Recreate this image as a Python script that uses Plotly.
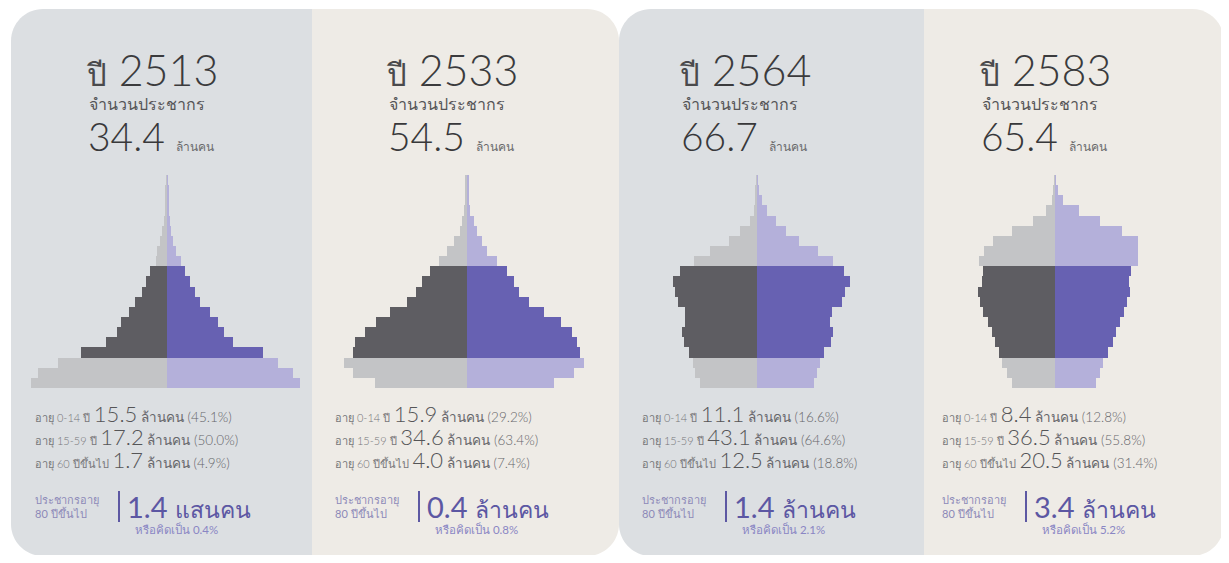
import plotly.graph_objects as go

# page body has an 8px default margin; the figure is sized to fit inside it
OFF = 8
W, H = 1229 - 2 * OFF, 563 - 2 * OFF

# ---------------- data ----------------
years = ["2513", "2533", "2564", "2583"]
total_pop = ["34.4", "54.5", "66.7", "65.4"]

age_groups = ["0-4", "5-9", "10-14", "15-19", "20-24", "25-29", "30-34", "35-39",
              "40-44", "45-49", "50-54", "55-59", "60-64", "65-69", "70-74",
              "75-79", "80-84", "85-89", "90-94", "95-99", "100+"]

# share of total population (%) by 5-year age group
male_2513 = [7.56, 7.17, 6.06, 4.78, 3.39, 2.78, 2.56, 2.11, 1.78, 1.39, 1.17, 0.94,
             0.61, 0.56, 0.39, 0.28, 0.17, 0.11, 0.08, 0.06, 0.03]
female_2513 = [7.39, 7.00, 6.17, 5.33, 3.67, 3.17, 2.83, 2.39, 1.83, 1.56, 1.28, 1.00,
               0.78, 0.50, 0.33, 0.22, 0.17, 0.11, 0.08, 0.06, 0.03]
male_2533 = [5.11, 6.33, 6.83, 6.33, 6.22, 5.67, 5.06, 4.28, 3.33, 2.83, 2.50, 2.06,
             1.56, 1.11, 0.72, 0.39, 0.28, 0.17, 0.11, 0.06, 0.06]
female_2533 = [4.83, 5.94, 6.50, 6.28, 6.11, 5.83, 5.22, 4.28, 3.44, 2.89, 2.61, 2.22,
               1.67, 1.11, 0.83, 0.56, 0.39, 0.17, 0.11, 0.06, 0.06]
male_2564 = [3.17, 3.44, 3.56, 3.78, 4.06, 4.17, 4.00, 4.00, 4.39, 4.56, 4.67, 4.28,
             3.50, 2.61, 1.56, 0.94, 0.39, 0.17, 0.11, 0.06, 0.03]
female_2564 = [3.17, 3.33, 3.50, 3.72, 4.11, 4.22, 4.06, 4.17, 4.72, 4.89, 5.17, 4.83,
               4.22, 3.39, 2.33, 1.61, 1.06, 0.56, 0.28, 0.11, 0.03]
male_2583 = [2.39, 2.67, 2.94, 3.11, 3.33, 3.50, 3.72, 4.00, 4.17, 4.28, 4.06, 4.00,
             4.22, 3.94, 3.44, 2.39, 1.22, 0.50, 0.17, 0.06, 0.03]
female_2583 = [2.28, 2.50, 2.67, 2.94, 3.22, 3.39, 3.61, 3.83, 4.00, 4.17, 4.11, 4.22,
               4.61, 4.61, 4.61, 3.72, 2.50, 1.33, 0.44, 0.17, 0.03]

males = [male_2513, male_2533, male_2564, male_2583]
females = [female_2513, female_2533, female_2564, female_2583]

group_labels = ["อายุ 0-14 ปี", "อายุ 15-59 ปี", "อายุ 60 ปีขึ้นไป"]
group_pop = [["15.5", "17.2", "1.7"], ["15.9", "34.6", "4.0"],
             ["11.1", "43.1", "12.5"], ["8.4", "36.5", "20.5"]]
group_pct = [["45.1%", "50.0%", "4.9%"], ["29.2%", "63.4%", "7.4%"],
             ["16.6%", "64.6%", "18.8%"], ["12.8%", "55.8%", "31.4%"]]

pop80_value = ["1.4", "0.4", "1.4", "3.4"]
pop80_unit = ["แสนคน", "ล้านคน", "ล้านคน", "ล้านคน"]
pop80_pct = ["0.4%", "0.8%", "2.1%", "5.2%"]

# ---------------- style ----------------
FONT = "Lato, Noto Sans, sans-serif"
BLUE_BG = "#dcdfe2"
BEIGE_BG = "#eeebe6"
M_LIGHT, M_DARK = "#c3c4c6", "#5e5d62"
F_LIGHT, F_DARK = "#b4b0da", "#6761b2"

def px(x):
    return (x - OFF) / W

def py(y):
    return 1 - (y - OFF) / H

def panel_path(x0, x1, y0, y1, r, left_round, right_round):
    k = 0.5523 * r
    pts = []
    if left_round:
        pts.append(f"M {px(x0)},{py(y0 + r)}")
        pts.append(f"C {px(x0)},{py(y0 + r - k)} {px(x0 + r - k)},{py(y0)} {px(x0 + r)},{py(y0)}")
    else:
        pts.append(f"M {px(x0)},{py(y0)}")
    if right_round:
        pts.append(f"L {px(x1 - r)},{py(y0)}")
        pts.append(f"C {px(x1 - r + k)},{py(y0)} {px(x1)},{py(y0 + r - k)} {px(x1)},{py(y0 + r)}")
        pts.append(f"L {px(x1)},{py(y1 - r)}")
        pts.append(f"C {px(x1)},{py(y1 - r + k)} {px(x1 - r + k)},{py(y1)} {px(x1 - r)},{py(y1)}")
    else:
        pts.append(f"L {px(x1)},{py(y0)}")
        pts.append(f"L {px(x1)},{py(y1)}")
    if left_round:
        pts.append(f"L {px(x0 + r)},{py(y1)}")
        pts.append(f"C {px(x0 + r - k)},{py(y1)} {px(x0)},{py(y1 - r + k)} {px(x0)},{py(y1 - r)}")
    else:
        pts.append(f"L {px(x0)},{py(y1)}")
    pts.append("Z")
    return " ".join(pts)

panel_bounds = [(11, 312, True, False, BLUE_BG), (312, 619, False, True, BEIGE_BG),
                (619, 924, True, False, BLUE_BG), (924, 1224, False, True, BEIGE_BG)]
centers = [167, 467, 757, 1055]
title_x = [84, 384, 677, 977]
stats_x = [33, 333, 640, 940]

shapes = []
for (x0, x1, lr, rr, col) in panel_bounds:
    shapes.append(dict(type="path", xref="paper", yref="paper",
                       path=panel_path(x0, x1, 9, 556, 32, lr, rr),
                       fillcolor=col, line=dict(width=0), layer="below"))

fig = go.Figure()
HALF = 144
SCALE = 18.0  # px per percent
PYR_TOP, PYR_BOT = 175, 388

def group_color(i, light, dark):
    return dark if 3 <= i <= 11 else light

annotations = []

def ann(x, y, text, size, color, weight=400, align="left"):
    annotations.append(dict(x=px(x), y=py(y), xref="paper", yref="paper",
                            xanchor="left", yanchor="middle", align=align, showarrow=False,
                            text=text, font=dict(size=size, color=color, family=FONT, weight=weight)))

for p in range(4):
    ax = "" if p == 0 else str(p + 1)
    c = centers[p]
    yidx = list(range(len(age_groups)))
    fig.add_trace(go.Bar(
        x=[-v for v in males[p]], y=yidx, orientation="h",
        marker=dict(color=[group_color(i, M_LIGHT, M_DARK) for i in yidx], line=dict(width=0)),
        xaxis="x" + ax, yaxis="y" + ax, showlegend=False,
        customdata=age_groups, hovertemplate="ชาย %{customdata}<extra></extra>"))
    fig.add_trace(go.Bar(
        x=females[p], y=yidx, orientation="h",
        marker=dict(color=[group_color(i, F_LIGHT, F_DARK) for i in yidx], line=dict(width=0)),
        xaxis="x" + ax, yaxis="y" + ax, showlegend=False,
        customdata=age_groups, hovertemplate="หญิง %{customdata}<extra></extra>"))
    rng = HALF / SCALE
    fig.update_layout(**{
        "xaxis" + ax: dict(domain=[px(c - HALF), px(c + HALF)], range=[-rng, rng],
                           visible=False, fixedrange=True, anchor="y" + ax),
        "yaxis" + ax: dict(domain=[py(PYR_BOT), py(PYR_TOP)], range=[-0.5, 20.5],
                           visible=False, fixedrange=True, anchor="x" + ax),
    })

    tx = title_x[p]
    ann(tx, 70, f"<span style='font-size:31px;color:#4a4a4c'>ปี</span> {years[p]}", 43, "#3b3b3d", 300)
    ann(tx + 3, 103, "จำนวนประชากร", 16, "#555557", 300)
    ann(tx + 2, 136,
        f"{total_pop[p]} <span style='font-size:12px;color:#6a6a6c'>ล้านคน</span>",
        39, "#38383a", 300)

    sx = stats_x[p]
    for g in range(3):
        yy = 413 + g * 23
        ann(sx, yy,
            (f"<span style='font-size:11px;color:#77777a'>{group_labels[g]}</span> "
             f"<span style='font-size:22px;color:#555557'>{group_pop[p][g]}</span>"
             f"<span style='font-size:13.5px;color:#66666a'> ล้านคน ({group_pct[p][g]})</span>"),
            13.5, "#66666a", 300)

    ann(sx, 506, "ประชากรอายุ<br>80 ปีขึ้นไป", 11, "#8c89b8", 400)
    bx = sx + 86
    shapes.append(dict(type="line", xref="paper", yref="paper",
                       x0=px(bx), x1=px(bx), y0=py(491), y1=py(522),
                       line=dict(color="#5d58a3", width=2)))
    ann(bx + 6, 506,
        f"{pop80_value[p]} <span style='font-size:23px'>{pop80_unit[p]}</span>",
        29, "#5c57a3", 400)
    ann(bx + 14, 529, f"หรือคิดเป็น {pop80_pct[p]}", 11.5, "#8a86c4", 400)

fig.update_layout(
    width=W, height=H, margin=dict(l=0, r=0, t=0, b=0),
    paper_bgcolor="white", plot_bgcolor="rgba(0,0,0,0)",
    barmode="overlay", bargap=0, shapes=shapes, annotations=annotations,
    showlegend=False, font=dict(family=FONT),
)

fig.write_html("out.html", config={"displayModeBar": False})
